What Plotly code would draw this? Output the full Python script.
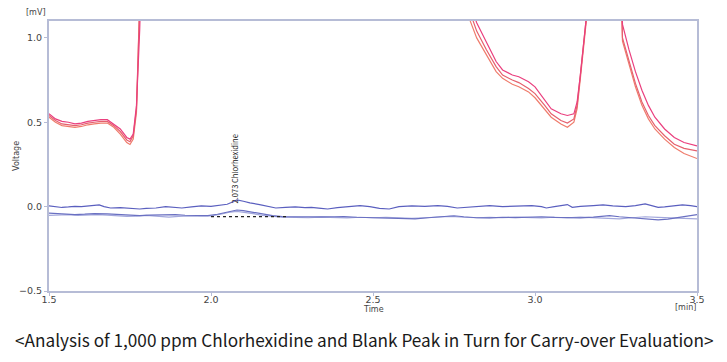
import plotly.graph_objects as go

# ---------------- data ----------------
red_a_t = [1.50,1.52,1.54,1.56,1.58,1.60,1.62,1.64,1.66,1.68,1.70,1.72,1.74,1.75,1.76,1.77,1.78,1.80,
           2.78,2.80,2.82,2.85,2.88,2.90,2.93,2.95,2.98,3.00,3.03,3.05,3.08,3.10,3.12,3.13,3.14,3.15,3.16,3.18,
           3.25,3.27,3.29,3.31,3.33,3.35,3.37,3.40,3.43,3.46,3.50]
red_a_v = [0.55,0.52,0.505,0.50,0.49,0.495,0.505,0.51,0.515,0.515,0.49,0.46,0.41,0.40,0.43,0.60,1.05,2.5,
           2.5,1.2,1.09,0.97,0.86,0.81,0.78,0.77,0.74,0.71,0.63,0.58,0.55,0.54,0.55,0.62,0.78,0.98,1.15,2.5,
           2.5,1.08,0.93,0.80,0.69,0.60,0.53,0.46,0.41,0.38,0.36]
red_b_v = [0.54,0.51,0.49,0.485,0.48,0.485,0.495,0.50,0.505,0.505,0.48,0.445,0.395,0.385,0.42,0.58,1.03,2.5,
           2.5,1.15,1.04,0.93,0.83,0.78,0.75,0.735,0.70,0.67,0.60,0.55,0.51,0.495,0.52,0.60,0.78,0.98,1.15,2.5,
           2.5,1.0,0.86,0.73,0.62,0.54,0.48,0.42,0.37,0.345,0.33]
red_c_v = [0.53,0.50,0.48,0.475,0.47,0.475,0.485,0.49,0.495,0.495,0.47,0.43,0.38,0.368,0.40,0.56,1.0,2.5,
           2.5,1.10,1.0,0.90,0.80,0.76,0.725,0.71,0.68,0.645,0.575,0.53,0.49,0.47,0.50,0.58,0.76,0.96,1.13,2.5,
           2.5,0.98,0.84,0.71,0.60,0.52,0.46,0.40,0.35,0.315,0.285]

blue_a_t = [1.50,1.52,1.54,1.56,1.58,1.60,1.62,1.64,1.655,1.67,1.69,1.72,1.75,1.78,1.80,1.83,1.86,1.88,1.91,1.94,
            1.97,2.00,2.03,2.05,2.07,2.08,2.10,2.12,2.15,2.18,2.20,2.23,2.26,2.29,2.31,2.34,2.36,2.39,2.42,2.46,
            2.49,2.52,2.55,2.58,2.62,2.66,2.70,2.73,2.76,2.79,2.83,2.86,2.90,2.93,2.96,2.99,3.02,3.035,3.06,3.08,
            3.10,3.115,3.14,3.18,3.21,3.24,3.28,3.31,3.34,3.36,3.38,3.40,3.43,3.455,3.48,3.50]
blue_a_v = [0.005,0.0,-0.005,-0.002,0.002,0.0,0.004,0.006,0.01,0.0,-0.008,-0.006,-0.01,-0.014,-0.01,-0.008,0.0,-0.004,-0.008,-0.002,
            0.004,0.002,0.008,0.014,0.03,0.04,0.032,0.022,0.012,0.0,-0.008,-0.004,-0.002,-0.006,-0.004,-0.01,-0.014,-0.006,-0.002,0.006,
            0.0,-0.01,-0.014,0.0,0.004,0.002,0.006,0.002,-0.008,-0.004,0.002,0.006,0.0,0.002,0.004,0.006,0.0,-0.008,0.0,0.006,
            0.012,-0.004,0.002,0.006,0.01,0.004,0.0,0.006,0.016,0.006,-0.004,-0.002,0.006,0.01,0.006,0.0]

blue_b_t = [1.50,1.53,1.56,1.58,1.61,1.64,1.68,1.71,1.74,1.78,1.81,1.85,1.89,1.92,1.96,1.99,2.02,2.05,2.08,2.10,
            2.13,2.16,2.19,2.22,2.26,2.30,2.34,2.38,2.41,2.45,2.49,2.52,2.56,2.60,2.63,2.67,2.71,2.75,2.78,2.82,
            2.86,2.90,2.94,2.98,3.02,3.06,3.10,3.14,3.18,3.21,3.23,3.26,3.30,3.34,3.38,3.41,3.45,3.48,3.50]
blue_b_v = [-0.039,-0.043,-0.047,-0.047,-0.045,-0.041,-0.043,-0.047,-0.05,-0.053,-0.05,-0.047,-0.047,-0.051,-0.053,-0.053,-0.045,-0.032,-0.02,-0.024,
            -0.034,-0.045,-0.053,-0.059,-0.061,-0.063,-0.061,-0.06,-0.059,-0.063,-0.066,-0.064,-0.068,-0.072,-0.073,-0.066,-0.06,-0.054,-0.06,-0.066,
            -0.067,-0.063,-0.065,-0.063,-0.06,-0.064,-0.065,-0.067,-0.062,-0.055,-0.053,-0.06,-0.067,-0.072,-0.078,-0.074,-0.063,-0.052,-0.047]

blue_c_t = [1.50,1.53,1.56,1.59,1.62,1.65,1.68,1.71,1.74,1.77,1.80,1.84,1.87,1.90,1.93,1.97,2.00,2.03,2.06,2.08,
            2.10,2.13,2.16,2.19,2.22,2.26,2.30,2.34,2.38,2.42,2.46,2.50,2.54,2.58,2.62,2.66,2.70,2.74,2.78,2.82,
            2.86,2.90,2.94,2.98,3.02,3.06,3.10,3.14,3.18,3.22,3.26,3.30,3.34,3.38,3.42,3.46,3.50]
blue_c_v = [-0.052,-0.05,-0.048,-0.052,-0.05,-0.047,-0.05,-0.055,-0.058,-0.056,-0.052,-0.058,-0.062,-0.058,-0.055,-0.057,-0.055,-0.045,-0.032,-0.028,
            -0.032,-0.042,-0.052,-0.058,-0.062,-0.064,-0.066,-0.062,-0.064,-0.067,-0.063,-0.066,-0.064,-0.068,-0.07,-0.066,-0.062,-0.058,-0.063,-0.066,
            -0.064,-0.066,-0.062,-0.065,-0.067,-0.063,-0.066,-0.062,-0.066,-0.07,-0.072,-0.066,-0.06,-0.064,-0.066,-0.07,-0.072]

baseline_t = [2.00, 2.234]
baseline_v = [-0.059, -0.059]

peak_time = 2.073
peak_label = "2.073 Chlorhexidine"
peak_label_v = 0.008

x_ticks = [1.5, 2.0, 2.5, 3.0, 3.5]
y_ticks = [-0.5, 0.0, 0.5, 1.0]

caption = "<Analysis of 1,000 ppm Chlorhexidine and Blank Peak in Turn for Carry-over Evaluation>"

# ---------------- figure ----------------
fig = go.Figure()
for t, v, c in [(blue_c_t, blue_c_v, "#a3a8dc"), (blue_b_t, blue_b_v, "#6a70c2"), (blue_a_t, blue_a_v, "#5a5fbf")]:
    fig.add_trace(go.Scatter(x=t, y=v, mode="lines", line=dict(color=c, width=1.2), showlegend=False))
for v, c in [(red_c_v, "#ef7c6c"), (red_b_v, "#e5606e"), (red_a_v, "#ea3f7e")]:
    fig.add_trace(go.Scatter(x=red_a_t, y=v, mode="lines", line=dict(color=c, width=1.2), showlegend=False))
fig.add_trace(go.Scatter(x=baseline_t, y=baseline_v, mode="lines",
                         line=dict(color="#222222", width=1.2, dash="dot"), showlegend=False))

axis_col = "#b6bcd6"
tick_font = dict(family="DejaVu Sans", size=9.5, color="#444444")
fig.update_xaxes(range=[1.5, 3.5], tickvals=x_ticks, tickformat=".1f", showgrid=False, zeroline=False,
                 showline=True, linecolor=axis_col, linewidth=2, mirror=True,
                 ticks="outside", ticklen=3, tickcolor=axis_col, tickfont=tick_font, ticklabelstandoff=-4)
fig.update_yaxes(range=[-0.5, 1.1], tickvals=y_ticks, tickformat=".1f", showgrid=False, zeroline=False,
                 showline=True, linecolor=axis_col, linewidth=2, mirror=True,
                 ticks="outside", ticklen=3, tickcolor=axis_col, tickfont=tick_font)

small = dict(family="DejaVu Sans", size=8, color="#444444")
fig.add_annotation(x=peak_time, y=peak_label_v, xref="x", yref="y", text=peak_label, textangle=-90,
                   showarrow=False, xanchor="center", yanchor="bottom",
                   font=dict(family="Noto Sans CJK KR", size=7.5, color="#222222"))
fig.add_annotation(x=-0.051, y=0.5, xref="paper", yref="paper", text="Voltage", textangle=-90,
                   showarrow=False, xanchor="center", yanchor="middle", font=small)
fig.add_annotation(x=-0.02, y=1.008, xref="paper", yref="paper", text="[mV]", showarrow=False,
                   xanchor="center", yanchor="bottom", font=small)
fig.add_annotation(x=0.5, y=-0.07, xref="paper", yref="paper", text="Time", showarrow=False,
                   xanchor="center", yanchor="middle", font=small)
fig.add_annotation(x=0.983, y=-0.062, xref="paper", yref="paper", text="[min]", showarrow=False,
                   xanchor="center", yanchor="middle", font=small)
fig.add_annotation(x=0.487, y=-0.18, xref="paper", yref="paper", text=caption.replace("<", "&lt;").replace(">", "&gt;"),
                   showarrow=False, xanchor="center", yanchor="middle",
                   font=dict(family="Noto Sans CJK KR", size=17.2, color="#1a1a1a"))

fig.update_layout(width=719, height=354, margin=dict(l=40, r=30, t=11, b=71),
                  paper_bgcolor="white", plot_bgcolor="white")
fig.write_html("out.html")
